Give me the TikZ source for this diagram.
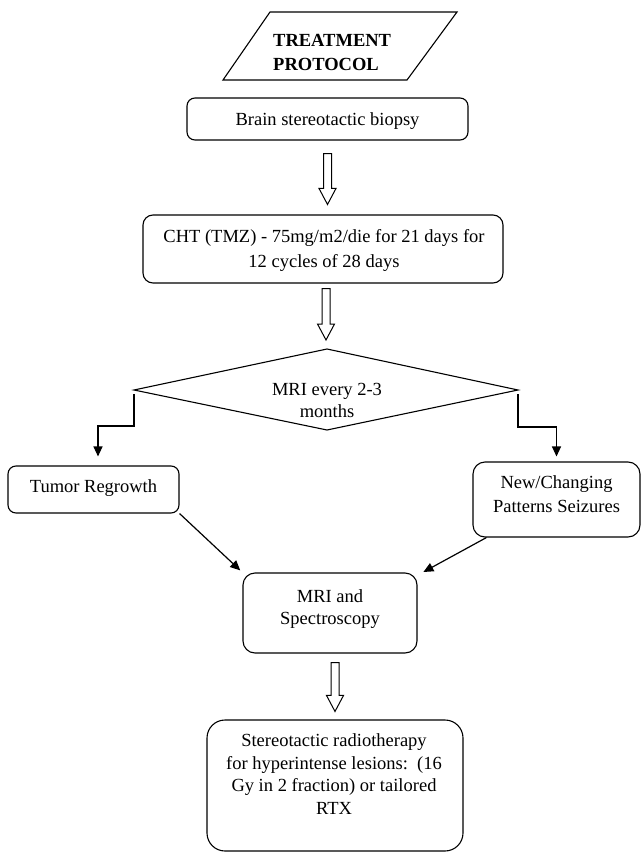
\documentclass[tikz,border=0pt]{standalone}
\usepackage{fontspec}
\setmainfont{Liberation Serif}
\usetikzlibrary{arrows.meta,calc}
\begin{document}
\begin{tikzpicture}[x=1pt,y=-1pt,
  box/.style={draw, line width=1.1pt, inner sep=0pt},
  txt/.style={font=\fontsize{18.5}{23}\selectfont, align=center, anchor=base, inner sep=0pt},
  arr/.style={line width=1.2pt, -{Triangle[length=10pt,width=9pt]}},
  fat/.style={draw, line width=1pt, to path={let \p1=(\tikztostart), \p2=(\tikztotarget) in
      (\x1-4pt,\y1) -- (\x1-4pt,\y2+16pt) -- (\x1-8.5pt,\y2+16pt) -- (\x1,\y2)
      -- (\x1+8.5pt,\y2+16pt) -- (\x1+4pt,\y2+16pt) -- (\x1+4pt,\y1) -- cycle}}]
\useasboundingbox (0,0) rectangle (641,853);

% title parallelogram
\coordinate (p1) at (270,12);
\coordinate (p2) at (457,12);
\coordinate (p3) at (407,80);
\coordinate (p4) at (223,80);
\draw[line width=1.1pt] (p1) -- (p2) -- (p3) -- (p4) -- cycle;
\node[txt, anchor=base west, align=left, font=\fontsize{18.5}{24}\selectfont\bfseries] (title) at (273,71) {TREATMENT\\PROTOCOL};

% boxes
\node[box, rounded corners=8pt, minimum width=281pt, minimum height=42pt] (biop) at (327.5,119) {};
\node[txt] (biopt) at (327.5,126) {Brain stereotactic biopsy};

\node[box, rounded corners=10pt, minimum width=360pt, minimum height=68pt] (cht) at (323,249) {};
\node[txt, font=\fontsize{18.5}{25}\selectfont] (chtt) at (324,267) {CHT (TMZ) - 75mg/m2/die for 21 days for\\12 cycles of 28 days};

% diamond
\coordinate (dl) at (134,390);
\coordinate (dt) at (327,349);
\coordinate (dr) at (518,390);
\coordinate (db) at (327,430);
\draw[line width=1.1pt] (dl) -- (dt) -- (dr) -- (db) -- cycle;
\node[txt, font=\fontsize{18.5}{22}\selectfont] (diat) at (327,417) {MRI every 2-3\\months};

\node[box, rounded corners=8pt, minimum width=171pt, minimum height=47pt] (tumor) at (93.5,489.5) {};
\node[txt] (tumort) at (93.5,492) {Tumor Regrowth};

\node[box, rounded corners=12pt, minimum width=167pt, minimum height=75pt] (new) at (556.5,499.5) {};
\node[txt, font=\fontsize{18.5}{24}\selectfont] (newt) at (556.5,512) {New/Changing\\Patterns Seizures};

\node[box, rounded corners=12pt, minimum width=174pt, minimum height=80pt] (mri) at (330,613) {};
\node[txt, font=\fontsize{18.5}{22}\selectfont] (mrit) at (330,624) {MRI and\\Spectroscopy};

\node[box, rounded corners=18pt, minimum width=256pt, minimum height=131pt] (final) at (335,785.5) {};
\node[txt, font=\fontsize{18.5}{22.5}\selectfont] (finalt) at (334,814) {Stereotactic radiotherapy\\for hyperintense lesions:\ \ (16\\Gy in 2 fraction) or tailored\\RTX};

% hollow arrows
\path[fat] ([yshift=-13pt]biop.south) to ([yshift=10pt]cht.north);
\path[fat] ([xshift=3pt,yshift=-5pt]cht.south) to ([xshift=3pt,yshift=9pt]dt);
\path[fat] ([xshift=5pt,yshift=-9pt]mri.south) to ([xshift=5pt,yshift=8pt]final.north);

% connectors
\draw[arr, shorten >=9pt] ([yshift=-4pt]dl) -- ++(0,32) -| ([xshift=4.5pt]tumor.north);
\draw[arr, shorten >=5pt] ([yshift=-4pt]dr) -- ++(0,33) -| (new.north);
\draw[arr, shorten >=3pt] (tumor.south east) -- (mri.north west);
\draw[arr, shorten >=1pt] ([xshift=14pt]new.south west) -- ([xshift=5pt]mri.north east);
\end{tikzpicture}
\end{document}
